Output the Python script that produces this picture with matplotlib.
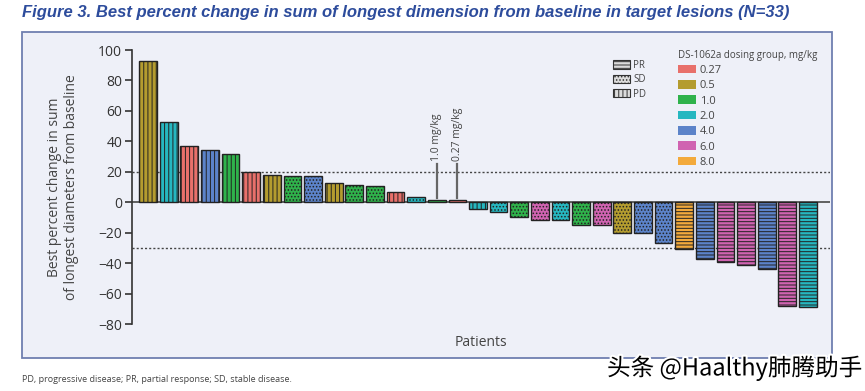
import matplotlib
matplotlib.use('Agg')
import matplotlib.pyplot as plt
from matplotlib.patches import Patch, Rectangle
import matplotlib.patheffects as pe

plt.rcParams['font.family'] = ['Open Sans', 'DejaVu Sans']
plt.rcParams['hatch.color'] = '#2a2a2a'
plt.rcParams['hatch.linewidth'] = 0.7

# data
values = [93, 53, 37, 34, 32, 20, 18, 17, 17, 12.5, 11, 10.5, 6.5, 3.5, 1.2, 1.2,
          -4.5, -6.5, -10, -12, -12, -15, -15, -20, -20.5, -26.5,
          -31, -37.5, -39.5, -41.5, -44, -68.5, -69]
doses = ['0.5', '2.0', '0.27', '4.0', '1.0', '0.27', '0.5', '1.0', '4.0', '0.5', '1.0',
         '1.0', '0.27', '2.0', '1.0', '0.27', '2.0', '2.0', '1.0', '6.0', '2.0', '1.0',
         '6.0', '0.5', '4.0', '4.0', '8.0', '4.0', '6.0', '6.0', '4.0', '6.0', '2.0']
responses = ['PD', 'PD', 'PD', 'PD', 'PD', 'PD', 'PD', 'SD', 'SD', 'PD', 'SD', 'SD', 'PD',
             'SD', 'SD', 'SD', 'PD', 'SD', 'SD', 'SD', 'SD', 'SD', 'SD', 'SD', 'SD', 'SD',
             'PR', 'PR', 'PR', 'PR', 'PR', 'PR', 'PR']

dose_levels = ['0.27', '0.5', '1.0', '2.0', '4.0', '6.0', '8.0']
dose_colors = ['#e8706b', '#b49c2f', '#2fb24b', '#26b7c0', '#5c83c9', '#d063b1', '#f3aa3c']
resp_labels = ['PR', 'SD', 'PD']
resp_hatch = {'PR': '-----', 'SD': '.....', 'PD': '||||'}

annot_idx = [14, 15]
annot_text = ['1.0 mg/kg', '0.27 mg/kg']

color_of = dict(zip(dose_levels, dose_colors))
bg = '#eef0f8'

fig = plt.figure(figsize=(8.65, 3.91), dpi=100)

# outer panel
fig.patches.append(Rectangle((22/865, 1-358/391), 810/865, 326/391, transform=fig.transFigure,
                             facecolor=bg, edgecolor='#6f7fb0', lw=1.3, zorder=-1))

fig.text(22/865, 1-13/391, 'Figure 3. Best percent change in sum of longest dimension from baseline in target lesions (N=33)',
         family=['Liberation Sans Narrow', 'Liberation Sans', 'DejaVu Sans'], fontsize=12,
         fontweight='bold', style='italic', color='#2d4c9c', va='center')

ax = fig.add_axes([132/865, 1-324/391, 698/865, 274/391])
ax.set_facecolor('none')

for i, v in enumerate(values):
    ax.bar(i, v, width=0.86, color=color_of[doses[i]], edgecolor='#222222', lw=1.0,
           hatch=resp_hatch[responses[i]], zorder=3)

ax.axhline(0, color='#555555', lw=1.3, zorder=2.5)
ax.axhline(20, color='#444444', lw=1.0, ls=(0, (1.5, 1.5)), zorder=2)
ax.axhline(-30, color='#444444', lw=1.0, ls=(0, (1.5, 1.5)), zorder=2)

for i, t in zip(annot_idx, annot_text):
    ax.plot([i, i], [2.5, 25], color='#666666', lw=1.6, zorder=5)
    ax.text(i, 27, t, rotation=90, ha='center', va='bottom', fontsize=7.5, color='#444444')

ax.set_xlim(-0.78, 33.07)
ax.set_ylim(-80, 100)
ax.set_yticks(range(-80, 101, 20))
ax.set_xticks([])
for s in ['top', 'right', 'bottom']:
    ax.spines[s].set_visible(False)
ax.spines['left'].set_color('#333333')
ax.spines['left'].set_linewidth(1.2)
ax.tick_params(axis='y', direction='out', length=5, width=1.2, color='#333333',
               labelsize=10, labelcolor='#333333', pad=2)
ax.set_ylabel('Best percent change in sum\nof longest diameters from baseline', fontsize=10,
              color='#444444', labelpad=14, linespacing=1.2)
ax.set_xlabel('Patients', fontsize=10, color='#444444', labelpad=8)

# response pattern legend
resp_handles = [Patch(facecolor='#dcdcdc', edgecolor='#333333', lw=0.8, hatch=resp_hatch[r])
                for r in resp_labels]
leg1 = fig.legend(resp_handles, resp_labels, loc='upper left', bbox_to_anchor=(608/865, 1-55/391),
                  frameon=False, fontsize=7, handlelength=1.8, handleheight=0.9,
                  handletextpad=0.3, labelspacing=0.35, borderpad=0, labelcolor='#444444')

# dose colour legend
dose_handles = [Patch(facecolor=c, edgecolor='none') for c in dose_colors]
leg2 = fig.legend(dose_handles, dose_levels, loc='upper left', bbox_to_anchor=(672/865, 1-44/391),
                  frameon=False, fontsize=8, handlelength=1.7, handleheight=0.8,
                  handletextpad=0.3, labelspacing=0.38, borderpad=0, labelcolor='#444444',
                  title='DS-1062a dosing group, mg/kg', title_fontsize=7, alignment='left')
leg2.get_title().set_color('#444444')

fig.text(22/865, 1-379/391, 'PD, progressive disease; PR, partial response; SD, stable disease.',
         fontsize=6.5, color='#444444', va='center')

fig.text(862/865, 1-368/391, '头条 @Haalthy肺腾助手', family=['Noto Sans CJK SC', 'DejaVu Sans'],
         fontsize=17, color='black', ha='right', va='center',
         path_effects=[pe.withStroke(linewidth=3, foreground='white')])

fig.savefig('out.png', dpi=100)
